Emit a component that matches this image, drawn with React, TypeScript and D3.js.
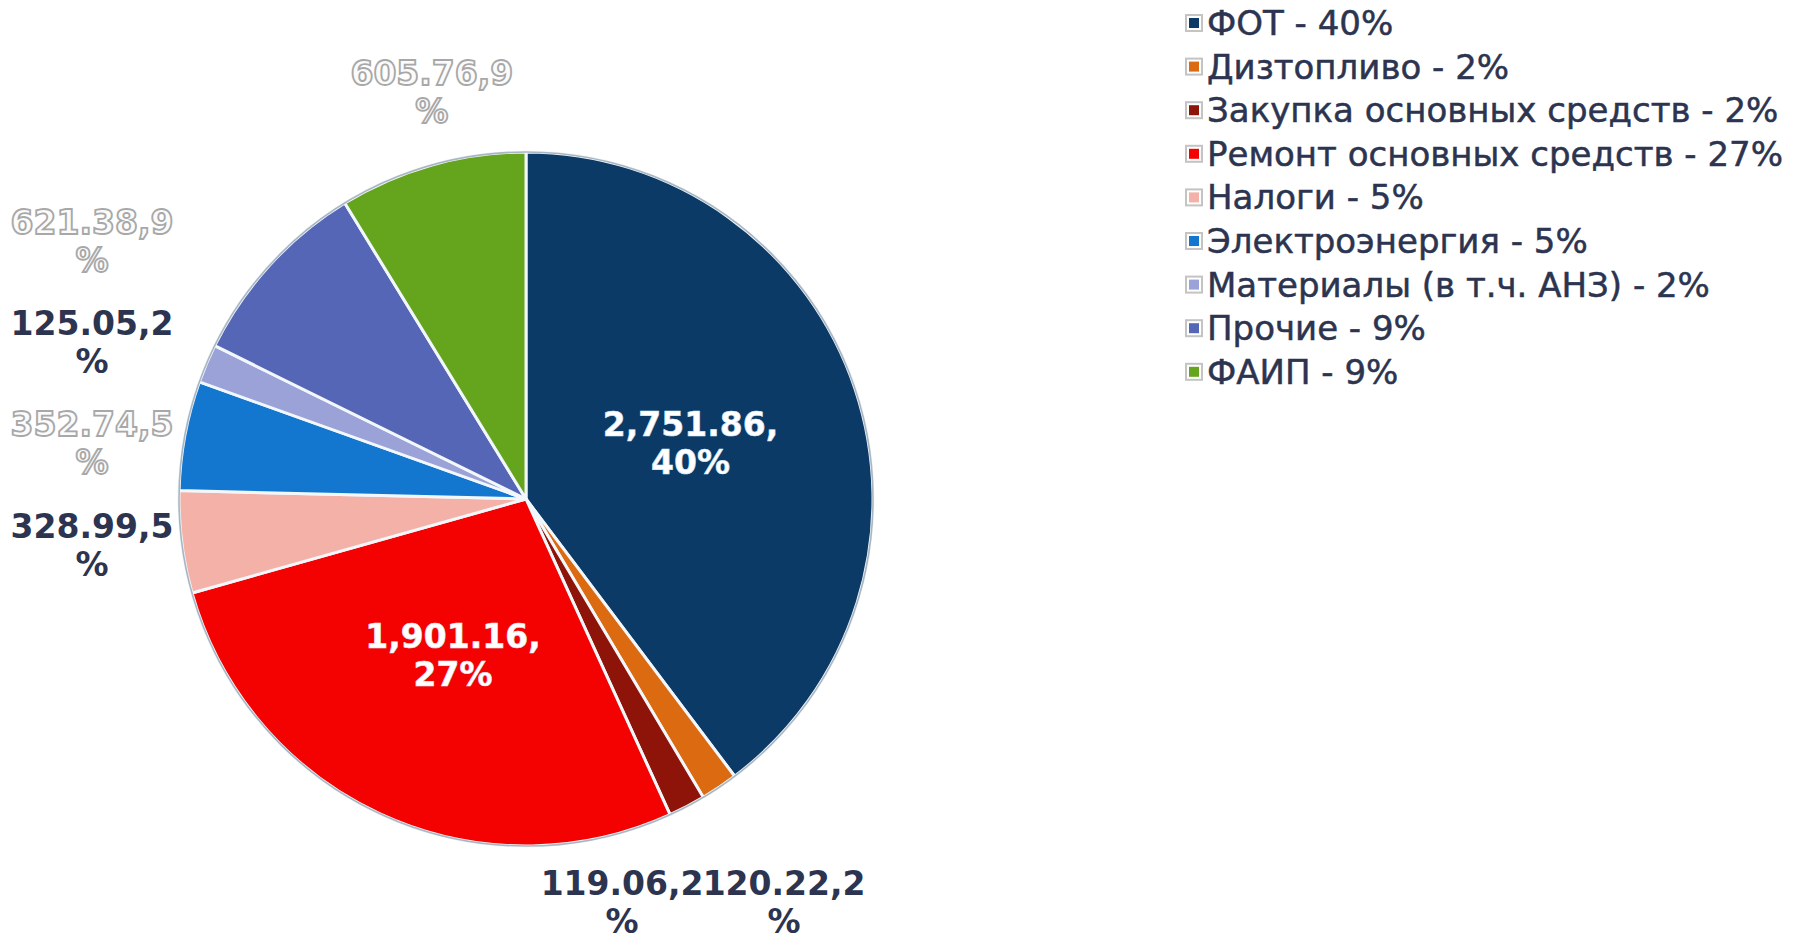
import React from 'react';
import * as d3 from 'd3';

// категории и значения (тыс.)
const categories = [
  'ФОТ',
  'Дизтопливо',
  'Закупка основных средств',
  'Ремонт основных средств',
  'Налоги',
  'Электроэнергия',
  'Материалы (в т.ч. АНЗ)',
  'Прочие',
  'ФАИП',
];
const values = [2751.86, 120.22, 119.06, 1901.16, 328.99, 352.74, 125.05, 621.38, 605.76];
const colors = ['#0b3a67', '#dc6a10', '#8e1409', '#f40202', '#f4b1a7', '#1477cf', '#9ba2d8', '#5666b6', '#64a51d'];
// подписи, нарисованные "контуром" (как в исходнике)
const hollowLabels = ['Электроэнергия', 'Прочие', 'ФАИП'];

const W = 1806, H = 939;
const cx = 526, cy = 499, r = 347;
const font = "'DejaVu Sans', sans-serif";

export default function App() {
  const total = d3.sum(values);
  const data = categories.map((c, i) => ({ name: c, value: values[i], color: colors[i] }));
  const pie = d3.pie<any>().sort(null).value((d: any) => d.value);
  const arcs = pie(data);
  const arc = d3.arc<any>().innerRadius(0).outerRadius(r);
  const fmt = d3.format(',.2f');
  const pct = (v: number) => Math.round((v / total) * 100);

  // раскладка подписей
  const labels: any[] = [];
  const bottom: any[] = [];
  const left: any[] = [];
  arcs.forEach((a: any) => {
    const share = a.data.value / total;
    const mid = (a.startAngle + a.endAngle) / 2;
    const s = Math.sin(mid), c = Math.cos(mid);
    if (share > 0.2) {
      const [x, y] = arc.centroid(a);
      labels.push({ x: cx + x, y: cy + y - 20, lines: [fmt(a.data.value) + ',', pct(a.data.value) + '%'], inner: true, a });
      return;
    }
    const lines = [fmt(a.data.value) + ',' + pct(a.data.value), '%'];
    if (c > 0.8) {
      labels.push({ x: cx + r * s, y: cy - r * c - 92, lines, a });
    } else if (c < -0.7) {
      const l = { x: cx + r * s, y: cy + r + 37, lines, a };
      bottom.push(l);
      labels.push(l);
    } else {
      const l = { x: cx - r - 87, y: cy - r * c * 1.08 - 20, lines, a };
      left.push(l);
      labels.push(l);
    }
  });
  // разводим нижние подписи, чтобы не налезали
  bottom.sort((p, q) => p.x - q.x);
  const bw = 162;
  if (bottom.length > 1) {
    const m = d3.mean(bottom, (d: any) => d.x) as number;
    bottom.forEach((d, i) => { d.x = m + (i - (bottom.length - 1) / 2) * bw; });
  }
  // левая колонка: минимальный шаг между подписями
  left.sort((p, q) => p.y - q.y);
  const minGap = 101;
  for (let it = 0; it < 20; it++) {
    for (let i = 1; i < left.length; i++) {
      const gap = left[i].y - left[i - 1].y;
      if (gap < minGap) {
        const d = (minGap - gap) / 2;
        left[i - 1].y -= d;
        left[i].y += d;
      }
    }
  }

  const legendX = 1186, legendY = 23, legendStep = 43.6;

  return (
    <svg width={W} height={H} style={{ position: 'fixed', left: 0, top: 0, background: '#fff' }}>
      <g transform={`translate(${cx},${cy})`}>
        {arcs.map((a: any, i: number) => (
          <path key={i} d={arc(a) as string} fill={a.data.color} stroke="#f2f7fb" strokeWidth={3} strokeLinejoin="round" />
        ))}
        <circle r={r} fill="none" stroke="#a9b6c1" strokeWidth={1.6} />
      </g>
      {labels.map((l, i) => {
        const hollow = hollowLabels.includes(l.a.data.name);
        const style = l.inner
          ? { fill: '#ffffff', stroke: '#d6e8f7', strokeWidth: 0.6 }
          : hollow
            ? { fill: '#fbfbfb', stroke: '#a8a8a8', strokeWidth: 1.8 }
            : { fill: '#2c3450', stroke: 'none', strokeWidth: 0 };
        return (
          <text key={i} x={l.x} y={l.y} textAnchor="middle" fontFamily={font} fontWeight="bold" fontSize={33}
            dominantBaseline="central" {...style}>
            {l.lines.map((t: string, j: number) => (
              <tspan key={j} x={l.x} dy={j === 0 ? 0 : 38}>{t}</tspan>
            ))}
          </text>
        );
      })}
      {data.map((d, i) => (
        <g key={i} transform={`translate(${legendX},${legendY + i * legendStep})`}>
          <rect x={0} y={-8} width={16} height={16} fill="#fff" stroke="#c4c4c4" strokeWidth={2} />
          <rect x={3} y={-5} width={10} height={10} fill={d.color} />
          <text x={21} y={0} dominantBaseline="central" fontFamily={font} fontSize={34} fill="#2c3450"
            stroke="#2c3450" strokeWidth={0.5}>
            {`${d.name} - ${pct(d.value)}%`}
          </text>
        </g>
      ))}
    </svg>
  );
}
